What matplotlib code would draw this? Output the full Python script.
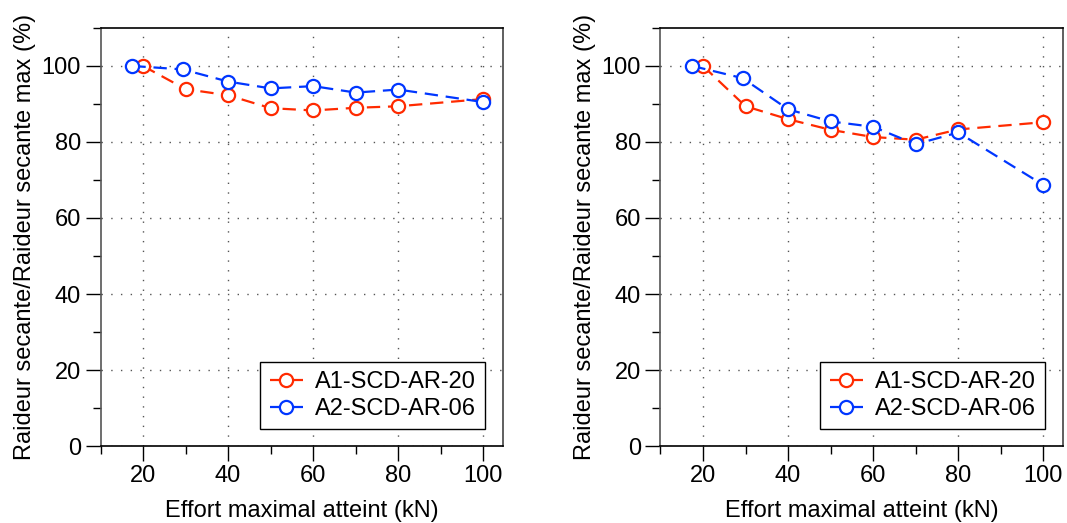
import numpy as np
import matplotlib.pyplot as plt
from matplotlib.ticker import MultipleLocator

plt.rcParams['font.family'] = ['Liberation Sans', 'DejaVu Sans']

# Left panel
x_a1_left = [20, 30, 40, 50, 60, 70, 80, 100]
y_a1_left = [100, 93.9, 92.3, 88.9, 88.3, 89.0, 89.4, 91.3]
x_a2_left = [17.5, 29.3, 40, 50, 60, 70, 80, 100]
y_a2_left = [100, 99.1, 95.9, 94.1, 94.7, 93.0, 93.8, 90.5]

# Right panel
x_a1_right = [20, 30, 40, 50, 60, 70, 80, 100]
y_a1_right = [100, 89.4, 86.0, 83.2, 81.3, 80.6, 83.3, 85.2]
x_a2_right = [17.5, 29.3, 40, 50, 60, 70, 80, 100]
y_a2_right = [100, 96.8, 88.6, 85.4, 84.0, 79.4, 82.5, 68.7]

labels = ['A1-SCD-AR-20', 'A2-SCD-AR-06']
RED = '#ff2a00'
BLUE = '#0036ff'

fig = plt.figure(figsize=(10.67, 5.23), dpi=100)
ax_left = fig.add_axes([0.0942, 0.1472, 0.3775, 0.7993])
ax_right = fig.add_axes([0.619, 0.1472, 0.3775, 0.7993])


def style_panel(ax, xa1, ya1, xa2, ya2):
    style = dict(linestyle=(0, (6, 3.5)), linewidth=1.6, marker='o', markersize=9.5,
                 markerfacecolor='white', markeredgewidth=1.6)
    ax.plot(xa1, ya1, color=RED, label=labels[0], **style)
    ax.plot(xa2, ya2, color=BLUE, label=labels[1], **style)

    ax.set_xlim(10, 104.7)
    ax.set_ylim(0, 110)
    ax.xaxis.set_major_locator(MultipleLocator(20))
    ax.xaxis.set_minor_locator(MultipleLocator(10))
    ax.yaxis.set_major_locator(MultipleLocator(20))
    ax.yaxis.set_minor_locator(MultipleLocator(10))
    ax.tick_params(which='major', direction='out', length=11, width=1, labelsize=17, pad=3)
    ax.tick_params(which='minor', direction='out', length=6, width=1)
    ax.grid(True, which='major', linestyle=(0, (1, 6)), color='#555555', linewidth=1)

    ax.spines['left'].set_color('#555555')
    ax.spines['left'].set_linewidth(1.2)
    for side in ['top', 'right', 'bottom']:
        ax.spines[side].set_color('black')
        ax.spines[side].set_linewidth(1.2)
    ax.spines['right'].set_color('#444444')

    ax.set_xlabel('Effort maximal atteint (kN)', fontsize=17, labelpad=9)
    ax.set_ylabel('Raideur secante/Raideur secante max (%)', fontsize=17, labelpad=4)

    leg = ax.legend(loc='lower right', bbox_to_anchor=(0.955, 0.04), fontsize=17,
                    fancybox=False, framealpha=1, edgecolor='black',
                    handlelength=1.4, handletextpad=0.5, borderpad=0.4,
                    labelspacing=0.2, borderaxespad=0)
    leg.get_frame().set_linewidth(1.0)


style_panel(ax_left, x_a1_left, y_a1_left, x_a2_left, y_a2_left)
style_panel(ax_right, x_a1_right, y_a1_right, x_a2_right, y_a2_right)

fig.savefig('out.png', dpi=100)
